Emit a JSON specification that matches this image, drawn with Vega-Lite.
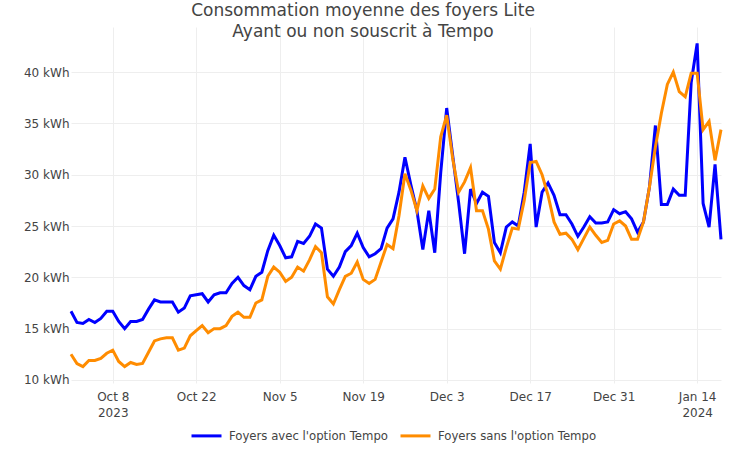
{
  "$schema": "https://vega.github.io/schema/vega-lite/v6.json",
  "width": 650,
  "height": 356,
  "autosize": {"type": "none"},
  "padding": {"left": 71, "top": 27, "right": 10, "bottom": 76},
  "background": "white",
  "title": {
    "text": ["Consommation moyenne des foyers Lite", "Ayant ou non souscrit à Tempo"],
    "font": "DejaVu Sans",
    "fontSize": 17,
    "fontWeight": "normal",
    "color": "#444444",
    "anchor": "middle",
    "dx": -33,
    "offset": -14,
    "lineHeight": 21
  },
  "config": {"view": {"stroke": null}, "font": "DejaVu Sans"},
  "data": {
    "values": [
      {"date": "2023-10-01", "avec": 16.7, "sans": 12.5},
      {"date": "2023-10-02", "avec": 15.6, "sans": 11.6},
      {"date": "2023-10-03", "avec": 15.5, "sans": 11.3},
      {"date": "2023-10-04", "avec": 15.9, "sans": 11.9},
      {"date": "2023-10-05", "avec": 15.6, "sans": 11.9},
      {"date": "2023-10-06", "avec": 16.0, "sans": 12.1},
      {"date": "2023-10-07", "avec": 16.7, "sans": 12.6},
      {"date": "2023-10-08", "avec": 16.7, "sans": 12.9},
      {"date": "2023-10-09", "avec": 15.7, "sans": 11.8},
      {"date": "2023-10-10", "avec": 15.0, "sans": 11.3},
      {"date": "2023-10-11", "avec": 15.7, "sans": 11.7},
      {"date": "2023-10-12", "avec": 15.7, "sans": 11.5},
      {"date": "2023-10-13", "avec": 15.9, "sans": 11.6},
      {"date": "2023-10-14", "avec": 16.9, "sans": 12.7},
      {"date": "2023-10-15", "avec": 17.8, "sans": 13.8},
      {"date": "2023-10-16", "avec": 17.6, "sans": 14.0},
      {"date": "2023-10-17", "avec": 17.6, "sans": 14.1},
      {"date": "2023-10-18", "avec": 17.6, "sans": 14.1},
      {"date": "2023-10-19", "avec": 16.6, "sans": 12.9},
      {"date": "2023-10-20", "avec": 17.0, "sans": 13.1},
      {"date": "2023-10-21", "avec": 18.2, "sans": 14.3},
      {"date": "2023-10-22", "avec": 18.3, "sans": 14.8},
      {"date": "2023-10-23", "avec": 18.4, "sans": 15.3},
      {"date": "2023-10-24", "avec": 17.6, "sans": 14.6},
      {"date": "2023-10-25", "avec": 18.3, "sans": 15.0},
      {"date": "2023-10-26", "avec": 18.5, "sans": 15.0},
      {"date": "2023-10-27", "avec": 18.5, "sans": 15.3},
      {"date": "2023-10-28", "avec": 19.4, "sans": 16.2},
      {"date": "2023-10-29", "avec": 20.0, "sans": 16.6},
      {"date": "2023-10-30", "avec": 19.2, "sans": 16.1},
      {"date": "2023-10-31", "avec": 18.8, "sans": 16.1},
      {"date": "2023-11-01", "avec": 20.1, "sans": 17.5},
      {"date": "2023-11-02", "avec": 20.5, "sans": 17.8},
      {"date": "2023-11-03", "avec": 22.6, "sans": 20.1},
      {"date": "2023-11-04", "avec": 24.1, "sans": 21.0},
      {"date": "2023-11-05", "avec": 23.1, "sans": 20.5},
      {"date": "2023-11-06", "avec": 21.9, "sans": 19.6},
      {"date": "2023-11-07", "avec": 22.0, "sans": 20.0},
      {"date": "2023-11-08", "avec": 23.5, "sans": 21.0},
      {"date": "2023-11-09", "avec": 23.3, "sans": 20.6},
      {"date": "2023-11-10", "avec": 24.0, "sans": 21.7},
      {"date": "2023-11-11", "avec": 25.2, "sans": 23.0},
      {"date": "2023-11-12", "avec": 24.8, "sans": 22.4},
      {"date": "2023-11-13", "avec": 20.8, "sans": 18.1},
      {"date": "2023-11-14", "avec": 20.1, "sans": 17.4},
      {"date": "2023-11-15", "avec": 21.0, "sans": 18.8},
      {"date": "2023-11-16", "avec": 22.5, "sans": 20.1},
      {"date": "2023-11-17", "avec": 23.1, "sans": 20.4},
      {"date": "2023-11-18", "avec": 24.3, "sans": 21.5},
      {"date": "2023-11-19", "avec": 22.9, "sans": 19.8},
      {"date": "2023-11-20", "avec": 22.0, "sans": 19.4},
      {"date": "2023-11-21", "avec": 22.3, "sans": 19.8},
      {"date": "2023-11-22", "avec": 22.8, "sans": 21.5},
      {"date": "2023-11-23", "avec": 24.8, "sans": 23.2},
      {"date": "2023-11-24", "avec": 25.7, "sans": 22.8},
      {"date": "2023-11-25", "avec": 28.3, "sans": 26.0},
      {"date": "2023-11-26", "avec": 31.7, "sans": 30.1},
      {"date": "2023-11-27", "avec": 29.0, "sans": 28.5},
      {"date": "2023-11-28", "avec": 26.5, "sans": 26.5},
      {"date": "2023-11-29", "avec": 22.7, "sans": 28.9},
      {"date": "2023-11-30", "avec": 26.5, "sans": 27.7},
      {"date": "2023-12-01", "avec": 22.4, "sans": 28.6},
      {"date": "2023-12-02", "avec": 30.2, "sans": 33.7},
      {"date": "2023-12-03", "avec": 36.5, "sans": 35.8},
      {"date": "2023-12-04", "avec": 31.9, "sans": 31.6},
      {"date": "2023-12-05", "avec": 27.3, "sans": 28.3},
      {"date": "2023-12-06", "avec": 22.3, "sans": 29.3},
      {"date": "2023-12-07", "avec": 28.6, "sans": 30.7},
      {"date": "2023-12-08", "avec": 27.2, "sans": 26.5},
      {"date": "2023-12-09", "avec": 28.3, "sans": 26.5},
      {"date": "2023-12-10", "avec": 27.9, "sans": 24.7},
      {"date": "2023-12-11", "avec": 23.4, "sans": 21.6},
      {"date": "2023-12-12", "avec": 22.4, "sans": 20.8},
      {"date": "2023-12-13", "avec": 24.9, "sans": 22.9},
      {"date": "2023-12-14", "avec": 25.4, "sans": 24.8},
      {"date": "2023-12-15", "avec": 25.0, "sans": 24.7},
      {"date": "2023-12-16", "avec": 28.3, "sans": 27.5},
      {"date": "2023-12-17", "avec": 33.0, "sans": 31.2},
      {"date": "2023-12-18", "avec": 24.9, "sans": 31.3},
      {"date": "2023-12-19", "avec": 28.3, "sans": 30.0},
      {"date": "2023-12-20", "avec": 29.2, "sans": 28.0},
      {"date": "2023-12-21", "avec": 28.0, "sans": 25.4},
      {"date": "2023-12-22", "avec": 26.1, "sans": 24.2},
      {"date": "2023-12-23", "avec": 26.1, "sans": 24.3},
      {"date": "2023-12-24", "avec": 25.2, "sans": 23.7},
      {"date": "2023-12-25", "avec": 24.0, "sans": 22.7},
      {"date": "2023-12-26", "avec": 24.9, "sans": 23.8},
      {"date": "2023-12-27", "avec": 25.9, "sans": 24.9},
      {"date": "2023-12-28", "avec": 25.3, "sans": 24.1},
      {"date": "2023-12-29", "avec": 25.3, "sans": 23.4},
      {"date": "2023-12-30", "avec": 25.4, "sans": 23.6},
      {"date": "2023-12-31", "avec": 26.6, "sans": 25.2},
      {"date": "2024-01-01", "avec": 26.2, "sans": 25.5},
      {"date": "2024-01-02", "avec": 26.4, "sans": 25.0},
      {"date": "2024-01-03", "avec": 25.7, "sans": 23.7},
      {"date": "2024-01-04", "avec": 24.4, "sans": 23.7},
      {"date": "2024-01-05", "avec": 25.4, "sans": 25.4},
      {"date": "2024-01-06", "avec": 28.8, "sans": 28.8},
      {"date": "2024-01-07", "avec": 34.8, "sans": 32.7},
      {"date": "2024-01-08", "avec": 27.1, "sans": 36.0},
      {"date": "2024-01-09", "avec": 27.1, "sans": 38.8},
      {"date": "2024-01-10", "avec": 28.6, "sans": 40.0},
      {"date": "2024-01-11", "avec": 28.0, "sans": 38.1},
      {"date": "2024-01-12", "avec": 28.0, "sans": 37.6},
      {"date": "2024-01-13", "avec": 39.0, "sans": 39.9},
      {"date": "2024-01-14", "avec": 42.8, "sans": 39.9},
      {"date": "2024-01-15", "avec": 27.2, "sans": 34.4},
      {"date": "2024-01-16", "avec": 24.9, "sans": 35.2},
      {"date": "2024-01-17", "avec": 31.0, "sans": 31.4},
      {"date": "2024-01-18", "avec": 23.7, "sans": 34.4}
    ],
    "format": {"parse": {"date": "date:'%Y-%m-%d'"}}
  },
  "transform": [
    {"fold": ["avec", "sans"], "as": ["serie", "kwh"]}
  ],
  "mark": {"type": "line", "strokeWidth": 3},
  "encoding": {
    "x": {
      "field": "date",
      "type": "temporal",
      "scale": {
        "domain": [
          {"year": 2023, "month": 10, "date": 1},
          {"year": 2024, "month": 1, "date": 18}
        ]
      },
      "axis": {
        "title": null,
        "values": [
          {"year": 2023, "month": 10, "date": 8},
          {"year": 2023, "month": 10, "date": 22},
          {"year": 2023, "month": 11, "date": 5},
          {"year": 2023, "month": 11, "date": 19},
          {"year": 2023, "month": 12, "date": 3},
          {"year": 2023, "month": 12, "date": 17},
          {"year": 2023, "month": 12, "date": 31},
          {"year": 2024, "month": 1, "date": 14}
        ],
        "labelExpr": "month(datum.value) == 9 && date(datum.value) == 8 ? ['Oct 8', '2023'] : (month(datum.value) == 0 && date(datum.value) == 14 ? ['Jan 14', '2024'] : timeFormat(datum.value, '%b %-d'))",
        "domain": false,
        "ticks": false,
        "grid": true,
        "gridColor": "#eeeeee",
        "labelColor": "#444444",
        "labelFont": "DejaVu Sans",
        "labelFontSize": 12,
        "labelPadding": 8,
        "labelLineHeight": 16,
        "labelFlush": false,
        "labelOverlap": false
      }
    },
    "y": {
      "field": "kwh",
      "type": "quantitative",
      "scale": {"domain": [9.7, 44.4], "nice": false, "zero": false},
      "axis": {
        "title": null,
        "values": [10, 15, 20, 25, 30, 35, 40],
        "labelExpr": "datum.value + ' kWh'",
        "domain": false,
        "ticks": false,
        "grid": true,
        "gridColor": "#eeeeee",
        "labelColor": "#444444",
        "labelFont": "DejaVu Sans",
        "labelFontSize": 12,
        "labelPadding": 2
      }
    },
    "color": {
      "field": "serie",
      "type": "nominal",
      "scale": {"domain": ["avec", "sans"], "range": ["#0000ff", "#ff8c00"]},
      "legend": {
        "title": null,
        "orient": "none",
        "direction": "horizontal",
        "legendX": 119,
        "legendY": 392,
        "symbolType": "stroke",
        "symbolSize": 900,
        "symbolStrokeWidth": 3,
        "labelFont": "DejaVu Sans",
        "labelFontSize": 11.7,
        "labelColor": "#444444",
        "labelOffset": 6,
        "labelLimit": 0,
        "columnPadding": 5,
        "labelExpr": "datum.label == 'avec' ? \"Foyers avec l'option Tempo\" : \"Foyers sans l'option Tempo\""
      }
    }
  }
}
